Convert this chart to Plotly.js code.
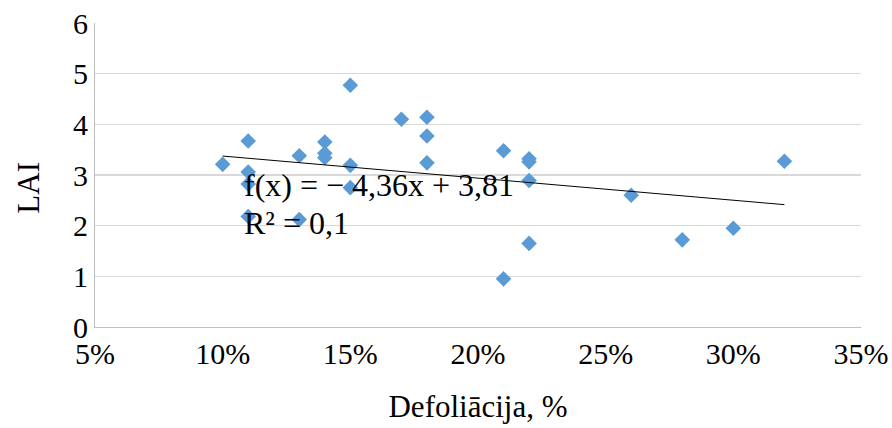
<!DOCTYPE html>
<html>
<head>
<meta charset="utf-8">
<script src="https://cdn.plot.ly/plotly-3.0.1.min.js"></script>
<style>html,body{margin:0;padding:0;background:#fff;}#chart{width:892px;height:428px;}</style>
</head>
<body>
<div id="chart"></div>
<script>
// Defoliation (fraction) and LAI values
const defoliation = [0.10, 0.11, 0.11, 0.11, 0.11, 0.13, 0.13, 0.14, 0.14, 0.14,
                     0.15, 0.15, 0.15, 0.17, 0.18, 0.18, 0.18, 0.21, 0.21,
                     0.22, 0.22, 0.22, 0.22, 0.26, 0.28, 0.30, 0.32];
const lai = [3.21, 3.67, 3.06, 2.82, 2.18, 3.38, 2.12, 3.65, 3.43, 3.34,
             4.77, 3.19, 2.75, 4.10, 4.14, 3.77, 3.24, 3.48, 0.95,
             3.32, 3.26, 2.89, 1.65, 2.60, 1.72, 1.95, 3.27];
// Linear trend (as printed on the chart)
const slope = -4.36;
const intercept = 3.81;
const trendX = [Math.min(...defoliation), Math.max(...defoliation)];
const trendY = trendX.map(x => slope * x + intercept);
const eqText = "f(x) = − 4,36x + 3,81";
const r2Text = "R² = 0,1";
const xTitle = "Defoliācija, %";
const yTitle = "LAI";

const font = "Liberation Serif, Times New Roman, serif";

const traces = [
  {
    x: defoliation, y: lai, type: "scatter", mode: "markers",
    marker: {symbol: "diamond", size: 12, color: "#5b9bd5"},
    hoverinfo: "x+y", showlegend: false
  },
  {
    x: trendX, y: trendY, type: "scatter", mode: "lines",
    line: {color: "#000", width: 1}, showlegend: false, hoverinfo: "skip"
  }
];

const layout = {
  width: 892, height: 428,
  margin: {l: 95, r: 31, t: 23, b: 101},
  paper_bgcolor: "#fff", plot_bgcolor: "#fff",
  font: {family: font, color: "#000", size: 30},
  xaxis: {
    range: [0.05, 0.35], dtick: 0.05, tick0: 0.05, tickformat: ".0%",
    showgrid: false, zeroline: false,
    showline: true, linecolor: "#bfbfbf", linewidth: 1,
    ticks: "", ticklen: 0,
    tickfont: {family: font, size: 30, color: "#000"},
    title: {text: xTitle, font: {family: font, size: 31, color: "#000"}, standoff: 26}
  },
  yaxis: {
    range: [0, 6], dtick: 1,
    showgrid: true, gridcolor: "#d9d9d9", gridwidth: 1.5,
    zeroline: false,
    showline: true, linecolor: "#bfbfbf", linewidth: 1,
    ticks: "", ticklen: 0,
    tickfont: {family: font, size: 30, color: "#000"}
  },
  annotations: [
    {x: -0.088, y: 0.457, xref: "paper", yref: "paper", text: yTitle, showarrow: false,
     textangle: -90, xanchor: "center", yanchor: "middle",
     font: {family: font, size: 31, color: "#000"}},
    {x: 0.1076, y: 2.80, xref: "x", yref: "y", text: eqText, showarrow: false,
     xanchor: "left", yanchor: "middle", font: {family: font, size: 32, color: "#000"}},
    {x: 0.1076, y: 2.05, xref: "x", yref: "y", text: r2Text, showarrow: false,
     xanchor: "left", yanchor: "middle", font: {family: font, size: 32, color: "#000"}}
  ]
};

Plotly.newPlot("chart", traces, layout, {displayModeBar: false, staticPlot: true});
</script>
</body>
</html>
